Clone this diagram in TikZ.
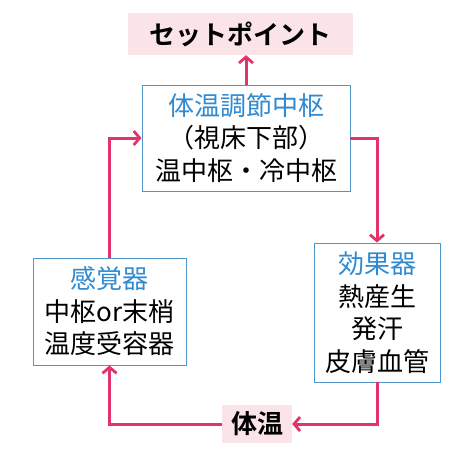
\documentclass[tikz,border=0pt]{standalone}
\usepackage{fontspec}
\setmainfont{Noto Sans CJK JP}[BoldFont={* Bold}]
\usetikzlibrary{arrows.meta}
\definecolor{linkpink}{HTML}{E0346A}
\definecolor{softpink}{HTML}{FBE4E8}
\definecolor{headblue}{HTML}{2F8AD2}
\definecolor{frameblue}{HTML}{4E97C8}

\begin{document}
\begin{tikzpicture}[x=1pt, y=-1pt,
        every node/.style = {font=\fontsize{26}{32.5}\selectfont, align=center, inner sep=0pt},
        unit/.style = {draw=frameblue, line width=0.9pt, fill=white},
        tag/.style = {fill=softpink, font=\fontsize{26}{30}\selectfont\bfseries},
        link/.style = {draw=linkpink, line width=3pt, -{Straight Barb[length=6pt, width=14pt, line width=2.8pt]}}]
        \useasboundingbox (0, 0) rectangle (461, 461);

        \node[tag, minimum width=225, minimum height=42] at (240.5, 34) (setpoint) {セットポイント};
        \node[unit, minimum width=208, minimum height=106] at (246, 138) (center) {\textcolor{headblue}{体温調節中枢}\\（視床下部）\\温中枢・冷中枢};
        \node[unit, minimum width=153, minimum height=107] at (109.5, 311.5) (sensor) {\textcolor{headblue}{感覚器}\\中枢or末梢\\温度受容器};
        \node[unit, minimum width=126, minimum height=139] at (377, 312.5) (effector) {\textcolor{headblue}{効果器}\\熱産生\\発汗\\皮膚血管};
        \node[tag, minimum width=70, minimum height=38] at (257, 424) (bodytemp) {体温};

        \draw[link] (center.north) -- (center.north |- setpoint.south);
        \draw[link] (sensor) |- (center);
        \draw[link] (center) -| (effector);
        \draw[link] (effector) |- (bodytemp);
        \draw[link] (bodytemp) -| (sensor);
\end{tikzpicture}
\end{document}
